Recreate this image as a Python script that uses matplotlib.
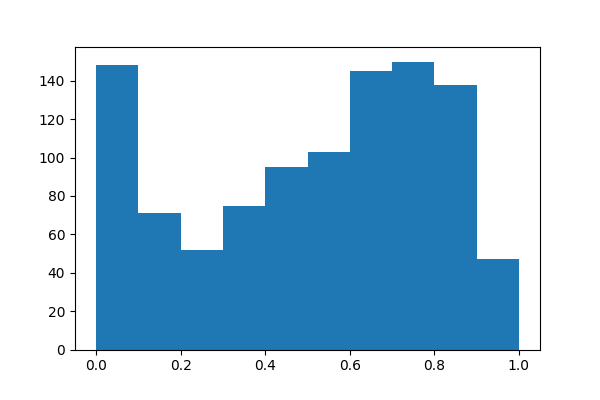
import matplotlib
matplotlib.use("Agg")
import matplotlib.pyplot as plt
import numpy as np

bin_edges = [0.0, 0.1, 0.2, 0.3, 0.4, 0.5, 0.6, 0.7, 0.8, 0.9, 1.0]
counts = [148, 71, 52, 75, 95, 103, 145, 150, 138, 47]

fig, ax = plt.subplots(figsize=(6, 4), dpi=100)
fig.subplots_adjust(left=0.125, right=0.9, bottom=0.126, top=0.882)
centers = [(a + b) / 2 for a, b in zip(bin_edges[:-1], bin_edges[1:])]
ax.hist(centers, bins=bin_edges, weights=counts, color="#1f77b4")
fig.savefig("out.png", dpi=100)
